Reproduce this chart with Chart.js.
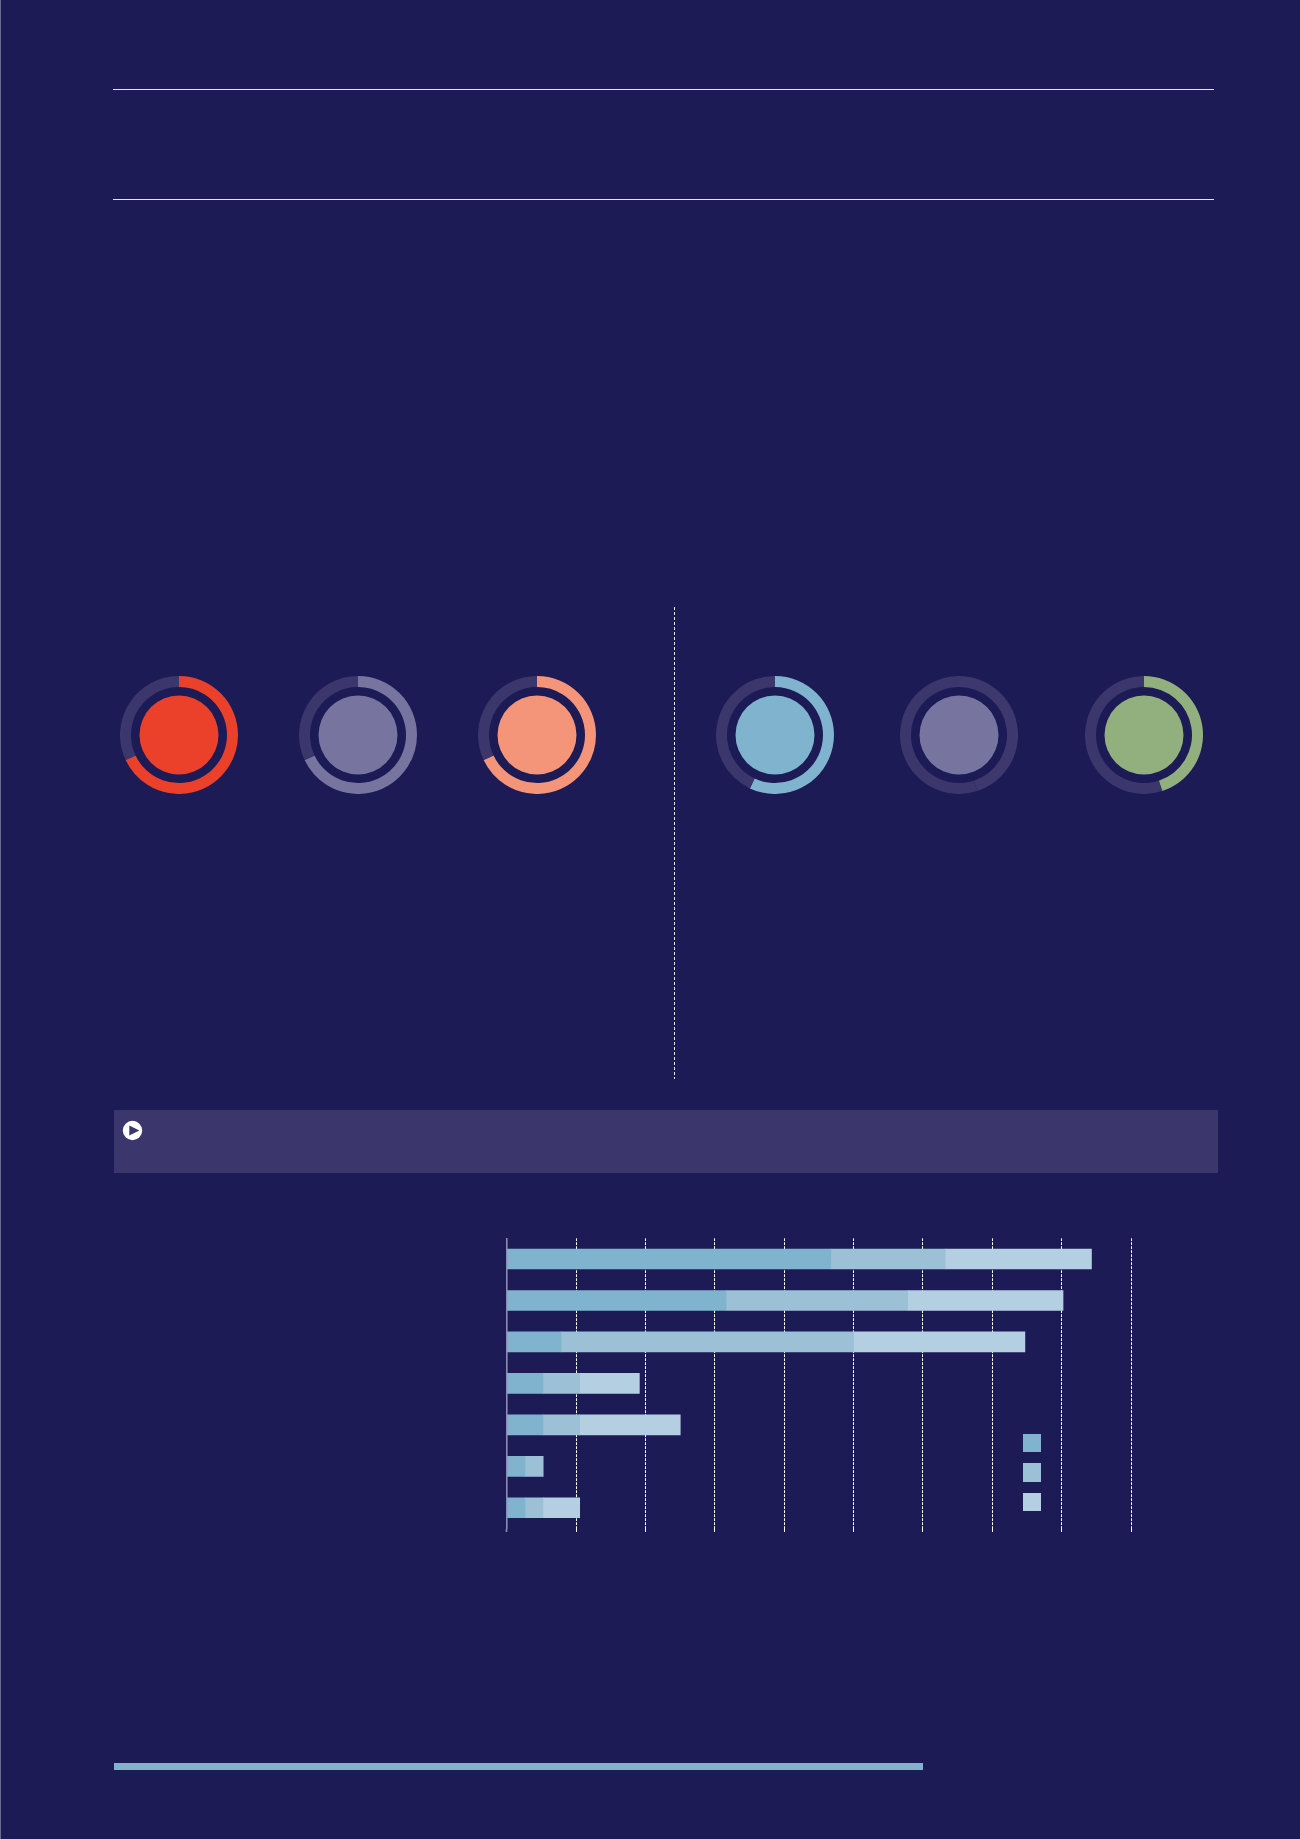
<!DOCTYPE html>
<html>
<head>
<meta charset="utf-8">
<title>Chart</title>
<script src="https://cdn.jsdelivr.net/npm/chart.js@4"></script>
<style>
  html, body { margin: 0; padding: 0; width: 1300px; height: 1839px; overflow: hidden; background: #1c1b55; }
  .abs { position: absolute; }
  canvas { position: absolute; display: block; }
</style>
</head>
<body>
<div class="abs" style="left:0;top:0;width:1px;height:1839px;background:#6b6b94"></div>
<div class="abs" style="left:113px;top:88.6px;width:1101px;height:1.4px;background:#e6e6ee"></div>
<div class="abs" style="left:113px;top:199px;width:1101px;height:1.4px;background:#e6e6ee"></div>
<div class="abs" style="left:673.7px;top:607px;width:1.5px;height:472px;background:repeating-linear-gradient(to bottom,#e6e6ee 0,#e6e6ee 2.8px,transparent 2.8px,transparent 5px)"></div>
<div class="abs" style="left:114px;top:1110px;width:1104px;height:63.4px;background:#3b366c"></div>
<svg class="abs" style="left:122px;top:1119.5px" width="21" height="21" viewBox="0 0 21 21">
  <circle cx="10.5" cy="10.5" r="9.7" fill="#fff"/>
  <path d="M7.3 5.5 L7.3 15.5 L17.3 10.5 Z" fill="#3b366c"/>
</svg>
<div id="legend"></div>
<div class="abs" style="left:113.5px;top:1763px;width:809.5px;height:7px;background:#80b3cd"></div>
<canvas id="bars" style="left:500px;top:1230px" width="640" height="310"></canvas>

<script>
// donuts
const donutShares = [68, 68, 68, 57, 45, 45];
const donutColors = ['#eb412b', '#7775a0', '#f4957a', '#80b3cd', '#3d386d', '#91b07e'];
const discColors = ['#eb412b', '#7775a0', '#f4957a', '#80b3cd', '#7775a0', '#91b07e'];
const donutX = [178.5, 358, 537.2, 774.5, 959.3, 1144];
const donutY = 734.5;

// stacked bars
const barCategories = ['A', 'B', 'C', 'D', 'E', 'F', 'G'];
const seriesOne = [4.67, 3.16, 0.78, 0.52, 0.52, 0.26, 0.26];
const seriesTwo = [1.65, 2.62, 4.22, 0.53, 0.53, 0.26, 0.26];
const seriesThree = [2.11, 2.24, 2.47, 0.86, 1.45, 0, 0.53];
const barColors = ['#80b3cd', '#9cc0d6', '#b4cfe2'];
const trackColor = '#3b366c';
const axisColor = '#8d8cab';

donutShares.forEach(function (share, i) {
  const cv = document.createElement('canvas');
  cv.width = 118;
  cv.height = 118;
  cv.style.left = (donutX[i] - 59) + 'px';
  cv.style.top = (donutY - 59) + 'px';
  document.body.appendChild(cv);
  new Chart(cv.getContext('2d'), {
    type: 'doughnut',
    data: {
      datasets: [
        { data: [share, 100 - share], backgroundColor: [donutColors[i], trackColor], borderWidth: 0, weight: 11 },
        { data: [100], backgroundColor: ['rgba(0,0,0,0)'], borderWidth: 0, weight: 8.5 },
        { data: [100], backgroundColor: [discColors[i]], borderWidth: 0, weight: 39.5 }
      ]
    },
    options: {
      responsive: false,
      animation: false,
      cutout: 0,
      plugins: { legend: { display: false }, tooltip: { enabled: false } }
    }
  });
});

const barChart = new Chart(document.getElementById('bars').getContext('2d'), {
  type: 'bar',
  data: {
    labels: barCategories,
    datasets: [
      { label: 'One', data: seriesOne, backgroundColor: barColors[0], borderWidth: 0, barThickness: 20 },
      { label: 'Two', data: seriesTwo, backgroundColor: barColors[1], borderWidth: 0, barThickness: 20 },
      { label: 'Three', data: seriesThree, backgroundColor: barColors[2], borderWidth: 0, barThickness: 20 }
    ]
  },
  options: {
    indexAxis: 'y',
    responsive: false,
    animation: false,
    layout: { padding: { left: 6.9, right: 9, top: 8.3, bottom: 8 } },
    plugins: { legend: { display: false }, tooltip: { enabled: false } },
    scales: {
      x: {
        stacked: true,
        min: 0,
        max: 9,
        ticks: { display: false, stepSize: 1 },
        border: { display: false, dash: [2.8, 1.2] },
        grid: {
          drawTicks: true,
          tickLength: 3.5,
          lineWidth: 1,
          tickWidth: function (c) { return c.tick && c.tick.value === 0 ? 1.6 : 1; },
          color: function (c) { return c.tick && c.tick.value === 0 ? 'rgba(0,0,0,0)' : '#ffffff'; },
          tickColor: function (c) { return c.tick && c.tick.value === 0 ? axisColor : '#ffffff'; }
        }
      },
      y: {
        stacked: true,
        ticks: { display: false },
        grid: { display: false, drawTicks: false },
        border: { display: true, color: axisColor, width: 1.6 },
        afterFit: function (s) { s.width = 0; }
      }
    }
  }
});

// legend swatches, in the chart's own colours
const swatchTops = [1433.6, 1463, 1492.6];
barColors.forEach(function (c, i) {
  const d = document.createElement('div');
  d.className = 'abs';
  d.style.cssText = 'left:1022.5px;top:' + swatchTops[i] + 'px;width:18.5px;height:18.5px;background:' + c;
  document.getElementById('legend').appendChild(d);
});
</script>
</body>
</html>
